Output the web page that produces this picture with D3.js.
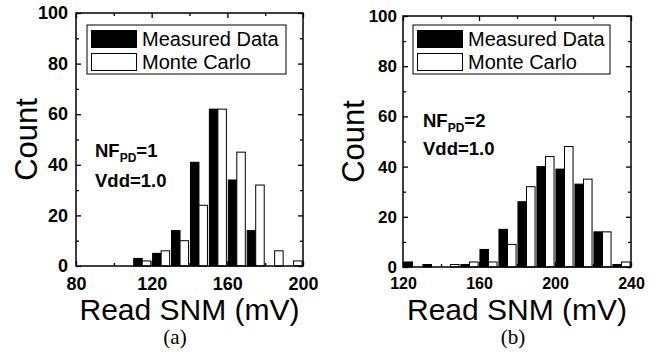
<!DOCTYPE html>
<html>
<head>
<meta charset="utf-8">
<script src="https://cdn.jsdelivr.net/npm/d3@7"></script>
<style>
  body { margin: 0; background: #fff; }
  svg { display: block; }
  .tick text { font-family: 'Liberation Sans', Arial, sans-serif; font-weight: bold; font-size: 18px; fill: #000; }
</style>
</head>
<body>
<div id="chart"></div>
<script>
// panel (a)
const binsA = [115, 125, 135, 145, 155, 165, 175, 185, 195]
const measuredA = [3, 5, 14, 41, 62, 34, 14, 0, 0]
const monteA = [2, 6, 10, 24, 62, 45, 32, 6, 2]
const xTicksA = [80, 120, 160, 200]
const xMinorA = [100, 140, 180]

// panel (b)
const binsB = [125, 135, 145, 155, 165, 175, 185, 195, 205, 215, 225, 235]
const measuredB = [2, 1, 0, 1, 7, 15, 26, 40, 39, 33, 14, 1]
const monteB = [0, 0, 1, 2, 2, 9, 32, 44, 48, 35, 14, 2]
const xTicksB = [120, 160, 200, 240]
const xMinorB = [140, 180, 220]

const yTicks = [0, 20, 40, 60, 80, 100]
const yMinor = [10, 30, 50, 70, 90]
const legendLabels = ['Measured Data', 'Monte Carlo']

const svg = d3.select('#chart').append('svg')
  .attr('width', 670)
  .attr('height', 356)

function drawPanel (p) {
  let x = d3.scaleLinear().domain(p.xDomain).range([p.left, p.right])
  let y = d3.scaleLinear().domain([0, 100]).range([p.bottom, p.top])
  let g = svg.append('g')

  // bars
  let half = 4.5
  g.append('g').selectAll('rect')
    .data(p.bins)
    .enter()
    .append('rect')
    .attr('x', (d) => x(d - half))
    .attr('y', (d, i) => y(p.measured[i]))
    .attr('width', (d) => x(d) - x(d - half))
    .attr('height', (d, i) => y(0) - y(p.measured[i]))
    .style('fill', '#000')
    .style('stroke', '#000')
    .style('stroke-width', 1)
  g.append('g').selectAll('rect')
    .data(p.bins)
    .enter()
    .append('rect')
    .attr('x', (d) => x(d))
    .attr('y', (d, i) => y(p.monte[i]))
    .attr('width', (d) => x(d + half) - x(d))
    .attr('height', (d, i) => y(0) - y(p.monte[i]))
    .style('fill', (d, i) => p.monte[i] > 0 ? '#fff' : 'none')
    .style('stroke', '#000')
    .style('stroke-width', (d, i) => p.monte[i] > 0 ? 1 : 0)

  // axes, ticks inward on all four sides
  let axes = [
    [d3.axisBottom(x), 'translate(0,' + p.bottom + ')', p.xTicks, p.xMinor, true, 11, p.xFont],
    [d3.axisTop(x), 'translate(0,' + p.top + ')', p.xTicks, p.xMinor, false, 0, 18],
    [d3.axisLeft(y), 'translate(' + p.left + ',0)', yTicks, yMinor, true, p.yPad, p.yFont],
    [d3.axisRight(y), 'translate(' + p.right + ',0)', yTicks, yMinor, false, 0, 18]
  ]
  axes.forEach(([ax, tr, major, minor, labels, pad, fs]) => {
    let a = g.append('g').attr('transform', tr)
      .call(ax.tickValues(major).tickSizeInner(-5).tickSizeOuter(0)
        .tickPadding(pad).tickFormat(labels ? d3.format('d') : ''))
    a.select('.domain').remove()
    a.selectAll('line').attr('stroke', '#000').attr('stroke-width', 1.3)
    a.selectAll('text').style('font-size', fs + 'px')
    let b = g.append('g').attr('transform', tr)
      .call(ax.tickValues(minor).tickSizeInner(-3).tickSizeOuter(0).tickFormat(''))
    b.select('.domain').remove()
    b.selectAll('line').attr('stroke', '#000').attr('stroke-width', 1.3)
  })
  g.selectAll('.tick text').attr('fill', '#000')

  // frame
  g.append('rect')
    .attr('x', p.left).attr('y', p.top)
    .attr('width', p.right - p.left).attr('height', p.bottom - p.top)
    .style('fill', 'none').style('stroke', '#000').style('stroke-width', 1.5)

  // legend
  let lg = g.append('g')
  lg.append('rect')
    .attr('x', p.legend[0]).attr('y', 25)
    .attr('width', p.legend[1] - p.legend[0]).attr('height', 49)
    .style('fill', '#fff').style('stroke', '#000').style('stroke-width', 1)
  legendLabels.forEach((lab, i) => {
    lg.append('rect')
      .attr('x', p.legend[0] + 4.5).attr('y', 30.5 + i * 23)
      .attr('width', 45).attr('height', 17)
      .style('fill', i === 0 ? '#000' : '#fff').style('stroke', '#000').style('stroke-width', 1)
    lg.append('text')
      .attr('x', p.legend[0] + 55).attr('y', 46 + i * 23)
      .style('font-family', "'Liberation Sans', Arial, sans-serif")
      .style('font-size', '20px')
      .text(lab)
  })

  // annotation
  let t1 = g.append('text')
    .attr('x', p.note[0]).attr('y', p.note[1])
    .style('font-family', "'Liberation Sans', Arial, sans-serif")
    .style('font-weight', 'bold').style('font-size', '18.5px')
  t1.append('tspan').text('NF')
  t1.append('tspan').attr('dy', 5).style('font-size', '12px').text('PD')
  t1.append('tspan').attr('dy', -5).text('=' + p.nf)
  g.append('text')
    .attr('x', p.note[0]).attr('y', p.note[2])
    .style('font-family', "'Liberation Sans', Arial, sans-serif")
    .style('font-weight', 'bold').style('font-size', '18.5px')
    .text('Vdd=1.0')

  // axis titles
  g.append('text')
    .attr('transform', 'translate(' + (p.left - 39) + ',' + ((p.top + p.bottom) / 2) + ') rotate(-90)')
    .attr('text-anchor', 'middle')
    .style('font-family', "'Liberation Sans', Arial, sans-serif")
    .style('font-size', '31px')
    .text('Count')
  g.append('text')
    .attr('x', (p.left + p.right) / 2).attr('y', 320)
    .attr('text-anchor', 'middle')
    .style('font-family', "'Liberation Sans', Arial, sans-serif")
    .style('font-size', '30px')
    .text('Read SNM (mV)')
  g.append('text')
    .attr('x', p.capX).attr('y', 344)
    .attr('text-anchor', 'middle')
    .style('font-family', "'Liberation Serif', 'Times New Roman', serif")
    .style('font-size', '21px')
    .text(p.caption)
}

drawPanel({
  bins: binsA, measured: measuredA, monte: monteA,
  xDomain: [80, 200], xTicks: xTicksA, xMinor: xMinorA,
  left: 76, right: 303, top: 13, bottom: 266, yPad: 8, xFont: 18, yFont: 18,
  legend: [87, 286], note: [95, 157, 187], nf: 1,
  capX: 175, caption: '(a)'
})

drawPanel({
  bins: binsB, measured: measuredB, monte: monteB,
  xDomain: [120, 240], xTicks: xTicksB, xMinor: xMinorB,
  left: 403, right: 631, top: 16, bottom: 267, yPad: 6, xFont: 16, yFont: 17,
  legend: [413, 610], note: [423, 127, 155], nf: 2,
  capX: 513, caption: '(b)'
})
</script>
</body>
</html>
